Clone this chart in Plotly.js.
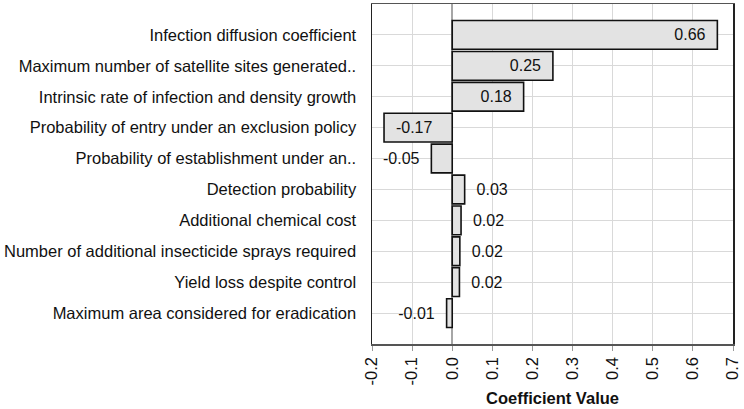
<!DOCTYPE html>
<html>
<head>
<meta charset="utf-8">
<script src="https://cdn.plot.ly/plotly-3.0.1.min.js"></script>
<style>html,body{margin:0;padding:0;background:#fff;}#chart{width:744px;height:409px;}</style>
</head>
<body>
<div id="chart"></div>
<script>
var categories = [
  "Infection diffusion coefficient",
  "Maximum number of satellite sites generated..",
  "Intrinsic rate of infection and density growth",
  "Probability of entry under an exclusion policy",
  "Probability of establishment under an..",
  "Detection probability",
  "Additional chemical cost",
  "Number of additional insecticide sprays required",
  "Yield loss despite control",
  "Maximum area considered for eradication"
];
var coefficients = [0.661, 0.251, 0.178, -0.170, -0.052, 0.031, 0.022, 0.019, 0.018, -0.014];
var xTicks = [-0.2, -0.1, 0.0, 0.1, 0.2, 0.3, 0.4, 0.5, 0.6, 0.7];
var xTickLabels = ["-0.2", "-0.1", "0.0", "0.1", "0.2", "0.3", "0.4", "0.5", "0.6", "0.7"];

var pad = "\u00a0\u00a0";
var labels = coefficients.map(function(v){
  var s = v.toFixed(2);
  var inside = Math.abs(v) > 0.1;
  if (v >= 0) return inside ? s + pad : pad + s;
  return inside ? pad + s : s + pad;
});
var positions = coefficients.map(function(v){ return Math.abs(v) > 0.1 ? "inside" : "outside"; });

var font = "Liberation Sans, Arial, sans-serif";

var trace = {
  type: "bar",
  orientation: "h",
  y: categories,
  x: coefficients,
  text: labels,
  textposition: positions,
  insidetextanchor: "end",
  constraintext: "none",
  cliponaxis: false,
  textfont: {family: font, size: 16, color: "#111"},
  insidetextfont: {family: font, size: 16, color: "#111"},
  outsidetextfont: {family: font, size: 16, color: "#111"},
  marker: {color: "#e3e3e3", line: {color: "#111", width: 1.6}},
  width: 0.93,
  hoverinfo: "none"
};

var layout = {
  width: 744,
  height: 409,
  margin: {l: 372, r: 11, t: 4, b: 65},
  paper_bgcolor: "#fff",
  plot_bgcolor: "#fff",
  showlegend: false,
  font: {family: font, size: 16.5, color: "#111"},
  xaxis: {
    range: [-0.2, 0.7],
    tickvals: xTicks,
    ticktext: xTickLabels,
    tickangle: -90,
    ticks: "outside",
    ticklen: 5,
    tickcolor: "#999",
    tickfont: {family: font, size: 16.5, color: "#111"},
    showgrid: true,
    gridcolor: "#d9d9d9",
    gridwidth: 1,
    zeroline: true,
    zerolinecolor: "#a6a6a6",
    zerolinewidth: 1.5,
    showline: true,
    linecolor: "#555",
    linewidth: 1.5,
    mirror: true,
    title: {text: "<b>Coefficient Value</b>", font: {family: font, size: 16.5, color: "#111"}, standoff: 8}
  },
  yaxis: {
    type: "category",
    range: [10, -1],
    showgrid: true,
    gridcolor: "#d9d9d9",
    gridwidth: 1,
    ticks: "outside",
    ticklen: 11,
    tickcolor: "rgba(0,0,0,0)",
    tickfont: {family: font, size: 16.5, color: "#111"},
    showline: true,
    linecolor: "#222",
    linewidth: 1.5,
    mirror: true
  }
};

Plotly.newPlot("chart", [trace], layout, {displayModeBar: false, staticPlot: true});
</script>
</body>
</html>
